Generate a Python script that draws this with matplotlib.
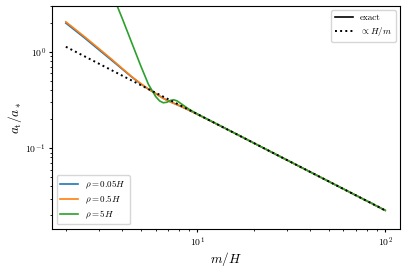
import numpy as np
import matplotlib
matplotlib.use("Agg")
import matplotlib.pyplot as plt
from matplotlib.lines import Line2D

plt.rcParams['mathtext.fontset'] = 'cm'
plt.rcParams['font.family'] = 'serif'
plt.rcParams['font.serif'] = ['cmr10', 'DejaVu Serif']
plt.rcParams['axes.formatter.use_mathtext'] = True

# values
m_small = [2, 2.5, 3, 3.5, 4, 4.5, 5, 5.5, 6, 6.5, 7, 8, 9, 10, 15, 20, 30, 50, 70, 80, 85, 88, 92, 96, 100]
a_rho005 = [1.99, 1.41, 1.05, 0.82, 0.66, 0.545, 0.465, 0.41, 0.37, 0.335, 0.31, 0.277, 0.249, 0.225,
            0.151, 0.113, 0.0753, 0.0452, 0.0323, 0.02825, 0.0268, 0.0255, 0.0247, 0.0234, 0.0226]
a_rho05 = [2.05, 1.45, 1.08, 0.84, 0.67, 0.55, 0.47, 0.41, 0.37, 0.335, 0.31, 0.277, 0.249, 0.225,
           0.151, 0.113, 0.0753, 0.0452, 0.0323, 0.02825, 0.0266, 0.0257, 0.02457, 0.02354, 0.0226]

m_big = [2, 2.5, 3, 3.5, 3.75, 4, 4.5, 5, 5.5, 6, 6.3, 6.6, 6.9, 7.2, 7.5, 7.8, 8.2, 9, 10, 15, 20, 30, 50, 70, 100]
a_rho5 = [80, 22, 9.0, 4.3, 3.0, 2.2, 1.22, 0.72, 0.46, 0.345, 0.31, 0.296, 0.30, 0.313, 0.318, 0.31,
          0.29, 0.255, 0.227, 0.151, 0.113, 0.0753, 0.0452, 0.0323, 0.0226]

m_fit = [2, 100]
a_fit = [1.13, 0.0226]

fig = plt.figure(figsize=(4.07, 2.69), dpi=100)
ax = fig.add_axes([0.128, 0.149, 0.855, 0.829])

l1, = ax.plot(m_small, a_rho005, color='C0', lw=1.2, label=r'$\rho = 0.05H$')
l2, = ax.plot(m_small, a_rho05, color='C1', lw=1.2, label=r'$\rho = 0.5H$')
l3, = ax.plot(m_big, a_rho5, color='C2', lw=1.2, label=r'$\rho = 5H$')
ax.plot(m_fit, a_fit, color='black', ls=':', lw=1.4)

ax.set_xscale('log')
ax.set_yscale('log')
ax.set_xlim(1.69, 120)
ax.set_ylim(0.0145, 3.0)
ax.tick_params(which='major', labelsize=7, pad=2, length=2.5)
ax.tick_params(which='minor', length=1.5)
ax.set_xlabel(r'$m/H$', fontsize=9.5, labelpad=1)
ax.set_ylabel(r'$a_{\rm t}/a_*$', fontsize=9.5, labelpad=1)

leg1 = ax.legend(handles=[l1, l2, l3], loc='lower left', fontsize=6.5, labelspacing=0.3)
ax.add_artist(leg1)
style_handles = [Line2D([], [], color='black', lw=1.2),
                 Line2D([], [], color='black', ls=':', lw=1.4)]
ax.legend(style_handles, ['exact', r'$\propto H/m$'], loc='upper right', fontsize=6.5, labelspacing=0.3)

fig.savefig('out.png', dpi=100)
